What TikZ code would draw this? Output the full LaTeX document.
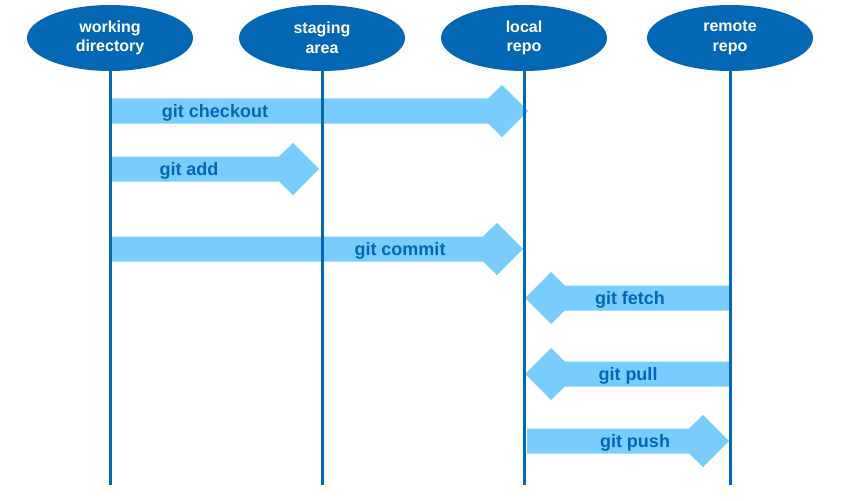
\documentclass[tikz,border=0pt]{standalone}
\usepackage{fontspec}
\setmainfont{Liberation Sans}
\usetikzlibrary{shapes.geometric,calc}
\definecolor{gitdark}{HTML}{0467B4}
\definecolor{gitlight}{HTML}{78CDFE}
\tikzset{
  actor/.style={ellipse, fill=gitdark, text=white, minimum width=166pt,
    minimum height=66pt, inner sep=0pt, align=center,
    font=\fontsize{16}{19.5}\selectfont\bfseries},
  lifeline/.style={draw=gitdark, line width=3pt},
  blockarrow/.style={fill=gitlight},
  cmdlabel/.style={text=gitdark, inner sep=0pt,
    font=\fontsize{18}{21}\selectfont\bfseries},
}
% #1 start coordinate, #2 tip coordinate, #3 direction (1 = right, -1 = left)
\newcommand\gitarrow[3]{%
  \fill[blockarrow] let \p1=(#1), \p2=(#2) in
    (\x1,\y1+12.5pt) -- ({\x2-(#3)*40pt},\y1+12.5pt)
    -- ({\x2-(#3)*26pt},\y2+26pt) -- (\x2,\y2)
    -- ({\x2-(#3)*26pt},\y2-26pt) -- ({\x2-(#3)*40pt},\y1-12.5pt)
    -- (\x1,\y1-12.5pt) -- cycle;}
\begin{document}
\begin{tikzpicture}[x=1pt,y=-1pt]
\useasboundingbox (0,0) rectangle (850,500);
% actors
\node[actor] (wd) at (110,38) {working\\directory};
\node[actor] (sa) at (322,38) {staging\\area};
\node[actor] (lr) at (524,38) {local\\repo};
\node[actor] (rr) at (730,38) {remote\\repo};
% arrow end points on the lifelines
\coordinate (ck-s) at ([xshift=2pt]wd |- 0,111);
\coordinate (ck-t) at ([xshift=4pt]lr |- 0,111);
\coordinate (ad-s) at ([xshift=2pt]wd |- 0,169);
\coordinate (ad-t) at ([xshift=-3pt]sa |- 0,169);
\coordinate (cm-s) at (wd |- 0,249);
\coordinate (cm-t) at ([xshift=-1pt]lr |- 0,249);
\coordinate (fe-s) at (rr |- 0,298);
\coordinate (fe-t) at ([xshift=1pt]lr |- 0,298);
\coordinate (pl-s) at (rr |- 0,374);
\coordinate (pl-t) at ([xshift=1pt]lr |- 0,374);
\coordinate (ps-s) at ([xshift=3pt]lr |- 0,441);
\coordinate (ps-t) at ([xshift=-1pt]rr |- 0,441);
% block arrows
\gitarrow{ck-s}{ck-t}{1}
\gitarrow{ad-s}{ad-t}{1}
\gitarrow{cm-s}{cm-t}{1}
\gitarrow{fe-s}{fe-t}{-1}
\gitarrow{pl-s}{pl-t}{-1}
\gitarrow{ps-s}{ps-t}{1}
% labels
\node[cmdlabel] (ck-l) at (215,112.5) {git checkout};
\node[cmdlabel] (ad-l) at (189,170.5) {git add};
\node[cmdlabel] (cm-l) at (400,250.5) {git commit};
\node[cmdlabel] (fe-l) at (630,299.5) {git fetch};
\node[cmdlabel] (pl-l) at (628,375.5) {git pull};
\node[cmdlabel] (ps-l) at (635,442.5) {git push};
% lifelines
\draw[lifeline] (wd.south) -- (wd.south |- 0,485);
\draw[lifeline] (sa.south) -- (sa.south |- 0,485);
\draw[lifeline] (lr.south) -- (lr.south |- 0,485);
\draw[lifeline] (rr.south) -- (rr.south |- 0,485);
\end{tikzpicture}
\end{document}
